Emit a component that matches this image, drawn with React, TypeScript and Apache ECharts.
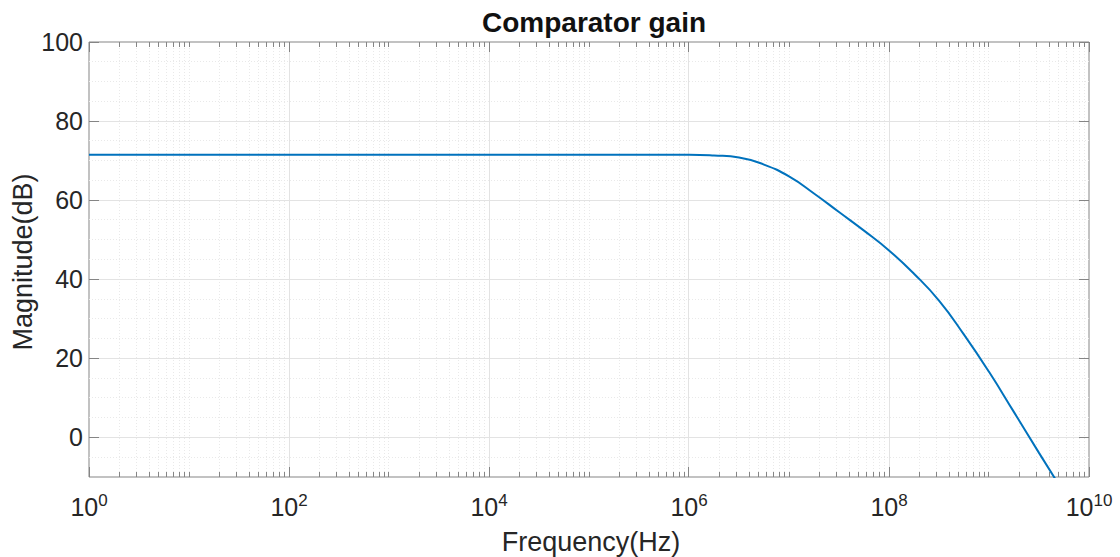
import React, { useEffect, useRef } from "react";
import * as echarts from "echarts";

// Frequency (Hz) and magnitude (dB)
const freqHz = [
  1, 1e1, 1e2, 1e3, 1e4, 1e5, 3.162e5, 1e6, 1.778e6, 3.162e6, 5.623e6, 1e7,
  1.778e7, 3.162e7, 5.623e7, 1e8, 1.778e8, 3.162e8, 5.623e8, 1e9, 1.778e9,
  3.162e9, 5.012e9,
];
const magDb = [
  71.5, 71.5, 71.5, 71.5, 71.5, 71.5, 71.5, 71.5, 71.3, 70.8, 69.0, 66.0,
  61.7, 57.0, 52.3, 47.3, 41.4, 34.6, 26.0, 16.6, 6.4, -3.9, -12.0,
];

// Axis structure
const xDecades = [0, 1, 2, 3, 4, 5, 6, 7, 8, 9, 10];
const xMinorMultipliers = [1, 2, 3, 4, 5, 6, 7, 8, 9];
const xLabelExponents = [0, 2, 4, 6, 8, 10];
const yGridValues = [-10, -5, 0, 5, 10, 15, 20, 25, 30, 35, 40, 45, 50, 55, 60, 65, 70, 75, 80, 85, 90, 95, 100];
const yMajorValues = [0, 20, 40, 60, 80, 100];

const TEXT = "#262626";
const BOX = "#858585";
const MAJOR_GRID = "#e3e3e3";
const MINOR_GRID = "#e9e9e9";
const FONT = "'Liberation Sans', Arial, Helvetica, sans-serif";

export default function App() {
  const ref = useRef<HTMLDivElement>(null);

  useEffect(() => {
    if (!ref.current) return;
    const chart = echarts.init(ref.current, undefined, { renderer: "svg" });

    const renderGrid = (params: any, api: any) => {
      const cs = params.coordSys;
      const left = cs.x;
      const right = cs.x + cs.width;
      const top = cs.y;
      const bottom = cs.y + cs.height;
      const children: any[] = [];
      const crisp = (v: number) => Math.round(v - 0.5) + 0.5;

      // vertical grid lines and ticks
      for (const d of xDecades) {
        for (const m of xMinorMultipliers) {
          const f = m * Math.pow(10, d);
          if (f > 1e10) continue;
          const px = crisp(api.coord([f, 0])[0]);
          const major = m === 1 && xLabelExponents.indexOf(d) >= 0;
          const inner = px > left + 1 && px < right - 1;
          if (inner) {
            children.push({
              type: "line",
              shape: { x1: px, y1: top, x2: px, y2: bottom },
              style: major
                ? { stroke: MAJOR_GRID, lineWidth: 1 }
                : { stroke: MINOR_GRID, lineWidth: 1, lineDash: [1, 2] },
              silent: true,
            });
          }
          const len = major ? 10 : 5;
          children.push({
            type: "line",
            shape: { x1: px, y1: bottom, x2: px, y2: bottom - len },
            style: { stroke: BOX, lineWidth: 1 },
            silent: true,
          });
          children.push({
            type: "line",
            shape: { x1: px, y1: top, x2: px, y2: top + len },
            style: { stroke: BOX, lineWidth: 1 },
            silent: true,
          });
        }
      }

      // x tick labels (10^n) placed through the axis scale
      for (const e of xLabelExponents) {
        const px = api.coord([Math.pow(10, e), 0])[0];
        children.push({
          type: "text",
          x: px,
          y: bottom + 45,
          style: {
            text: `{b|10}{s|${e}}`,
            align: "center",
            verticalAlign: "bottom",
            rich: {
              b: { fontSize: 25, fontFamily: FONT, fill: TEXT },
              s: { fontSize: 17, fontFamily: FONT, fill: TEXT, padding: [0, 0, 13, 0] },
            },
            fill: TEXT,
          },
          silent: true,
        });
      }

      // horizontal grid lines and ticks
      for (const v of yGridValues) {
        const py = crisp(api.coord([1, v])[1]);
        const major = yMajorValues.indexOf(v) >= 0;
        const inner = py > top + 1 && py < bottom - 1;
        if (inner) {
          children.push({
            type: "line",
            shape: { x1: left, y1: py, x2: right, y2: py },
            style: major
              ? { stroke: MAJOR_GRID, lineWidth: 1 }
              : { stroke: MINOR_GRID, lineWidth: 1, lineDash: [1, 2] },
            silent: true,
          });
        }
        if (major) {
          children.push({
            type: "line",
            shape: { x1: left, y1: py, x2: left + 10, y2: py },
            style: { stroke: BOX, lineWidth: 1 },
            silent: true,
          });
          children.push({
            type: "line",
            shape: { x1: right, y1: py, x2: right - 10, y2: py },
            style: { stroke: BOX, lineWidth: 1 },
            silent: true,
          });
        }
      }

      return { type: "group", children };
    };

    const option: any = {
      animation: false,
      backgroundColor: "#ffffff",
      grid: {
        left: 89,
        top: 42,
        width: 1000,
        height: 435,
        show: true,
        borderColor: BOX,
        borderWidth: 1,
        backgroundColor: "#ffffff",
        containLabel: false,
      },
      xAxis: {
        type: "log",
        logBase: 10,
        min: 1,
        max: 1e10,
        axisLine: { show: false },
        axisTick: { show: false },
        splitLine: { show: false },
        axisLabel: { show: false },
      },
      yAxis: {
        type: "value",
        min: -10,
        max: 100,
        interval: 10,
        axisLine: { show: false },
        axisTick: { show: false },
        splitLine: { show: false },
        axisLabel: {
          margin: 6,
          color: TEXT,
          fontSize: 25,
          fontFamily: FONT,
          formatter: (v: number) => (v % 20 === 0 ? String(v) : ""),
        },
      },
      graphic: [
        {
          type: "text",
          x: 594,
          y: 22.5,
          style: {
            text: "Comparator gain",
            fill: "#111111",
            font: `bold 28px ${FONT}`,
            textAlign: "center",
            textVerticalAlign: "middle",
          },
        },
        {
          type: "text",
          x: 591,
          y: 542,
          style: {
            text: "Frequency(Hz)",
            fill: TEXT,
            font: `27px ${FONT}`,
            textAlign: "center",
            textVerticalAlign: "middle",
          },
        },
        {
          type: "text",
          x: 23,
          y: 262,
          rotation: Math.PI / 2,
          style: {
            text: "Magnitude(dB)",
            fill: TEXT,
            font: `27px ${FONT}`,
            textAlign: "center",
            textVerticalAlign: "middle",
          },
        },
      ],
      series: [
        {
          type: "custom",
          name: "grid",
          z: 1,
          silent: true,
          clip: false,
          renderItem: renderGrid,
          data: [[1, 0]],
          encode: { x: 0, y: 1 },
        },
        {
          type: "line",
          name: "Comparator gain",
          z: 3,
          data: freqHz.map((f, i) => [f, magDb[i]]),
          showSymbol: false,
          smooth: 0.5,
          clip: true,
          lineStyle: { color: "#0072BD", width: 2 },
          itemStyle: { color: "#0072BD" },
        },
      ],
    };

    chart.setOption(option);
    return () => chart.dispose();
  }, []);

  return (
    <div
      ref={ref}
      style={{ position: "absolute", left: 0, top: 0, width: 1120, height: 557 }}
    />
  );
}
